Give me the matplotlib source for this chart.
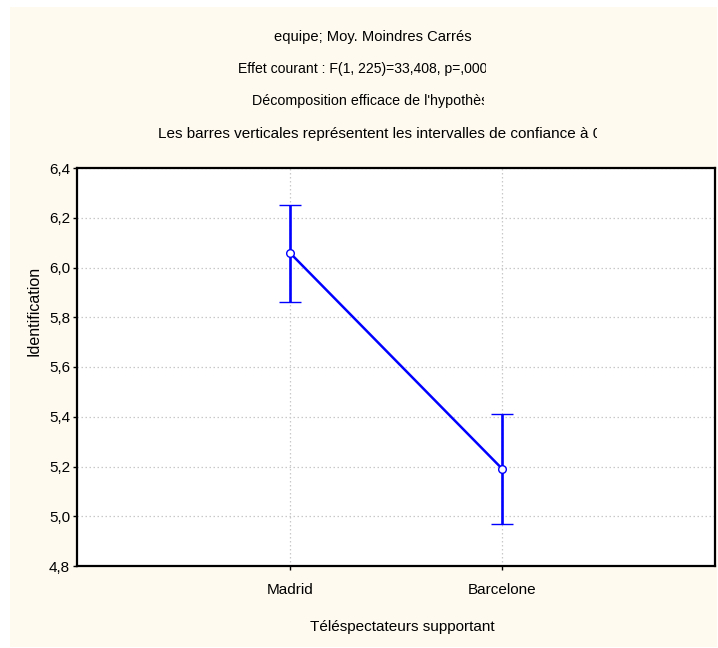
import matplotlib
matplotlib.use("Agg")
import matplotlib.pyplot as plt
from matplotlib.patches import Rectangle

# data
categories = ["Madrid", "Barcelone"]
means = [6.06, 5.19]
ci_low = [5.86, 4.97]
ci_high = [6.25, 5.41]
yticks = [4.8, 5.0, 5.2, 5.4, 5.6, 5.8, 6.0, 6.2, 6.4]

title_lines = [
    "equipe; Moy. Moindres Carrés",
    "Effet courant : F(1, 225)=33,408, p=,00000",
    "Décomposition efficace de l'hypothèse",
    "Les barres verticales représentent les intervalles de confiance à 0,95",
]

plt.rcParams['font.family'] = ['Liberation Sans', 'DejaVu Sans']

W, H = 718, 648
fig = plt.figure(figsize=(W / 100, H / 100), dpi=100, facecolor="white")

# cream panel behind everything
fig.patches.append(Rectangle((10 / W, 1 / H), 707 / W, 640 / H, transform=fig.transFigure,
                             facecolor="#fffaf0", edgecolor="none", zorder=-10))

ax = fig.add_axes([77 / W, (H - 566) / H, 638 / W, 398 / H])
ax.set_facecolor("white")

x = [1, 2]
yerr = [[m - lo for m, lo in zip(means, ci_low)], [hi - m for m, hi in zip(means, ci_high)]]
ax.errorbar(x, means, yerr=yerr, color="#0000ff", lw=1.8, elinewidth=1.9,
            capsize=8, capthick=2.0, marker="o", ms=5.5, mfc="white", mec="#0000ff",
            mew=1.0, zorder=3)

ax.set_xlim(0, 3)
ax.set_ylim(4.8, 6.4)
ax.set_xticks(x)
ax.set_xticklabels(categories)
ax.set_yticks(yticks)
ax.set_yticklabels([f"{v:.1f}".replace(".", ",") for v in yticks])
ax.grid(True, color="#c8c8c8", linestyle=(0, (1.2, 2)), linewidth=0.9)
ax.set_axisbelow(True)
for s in ax.spines.values():
    s.set_linewidth(1.6)
    s.set_color("black")
ax.tick_params(direction="out", length=3, width=1, labelsize=11, colors="black")
ax.tick_params(axis="y", pad=2)
ax.tick_params(axis="x", pad=9.5)

ax.set_ylabel("Identification", fontsize=11.5)
ax.yaxis.set_label_coords(-0.055, 0.64)
fig.text(402 / W, 1 - 627 / H, "Téléspectateurs supportant", ha="center", va="center", fontsize=11)

# title lines, clipped on the right as in the original export
starts = [274, 238, 252, 158]
ends = [476, 486, 484, 597]
ys = [37, 69, 101, 134]
sizes = [10.6, 10.1, 10.3, 11]
for txt, x0, x1, yy, fs in zip(title_lines, starts, ends, ys, sizes):
    t = fig.text(x0 / W, 1 - yy / H, txt, ha="left", va="center", fontsize=fs)
    t.set_clip_path(Rectangle((0, 0), x1 / W, 1, transform=fig.transFigure))

fig.savefig("out.png", dpi=100, facecolor=fig.get_facecolor())
